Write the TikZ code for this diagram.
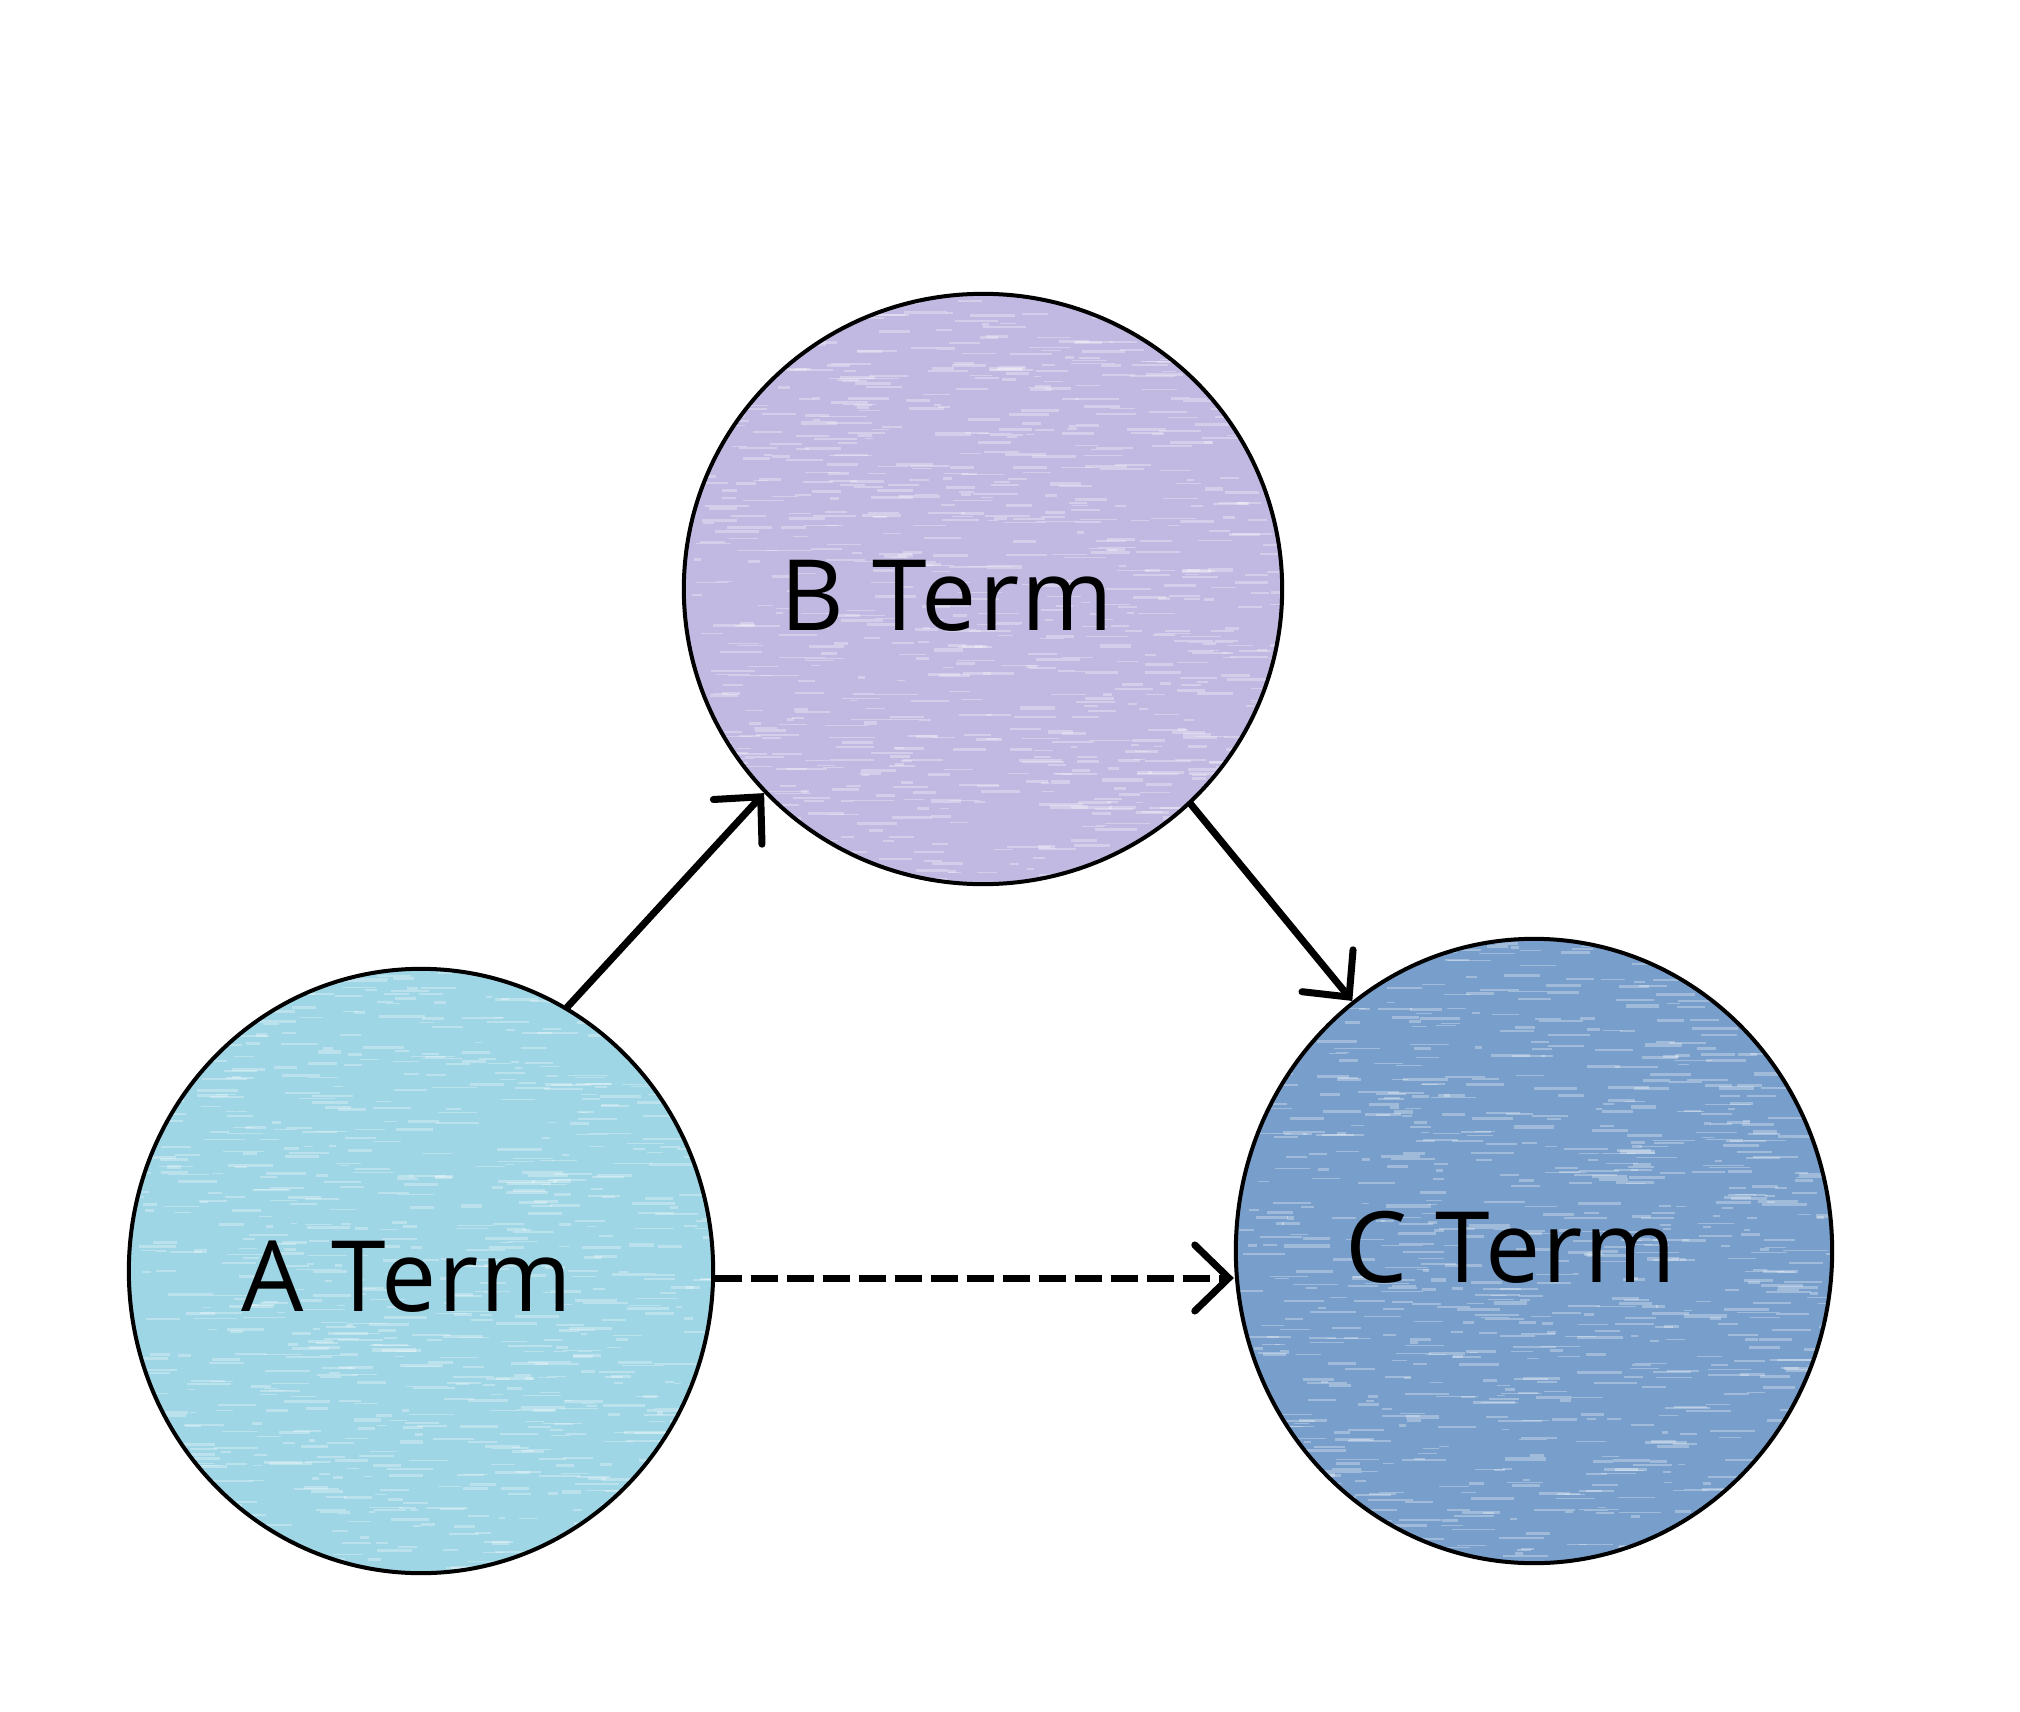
\documentclass[tikz,border=0pt]{standalone}
\usepackage{fontspec}
\setmainfont{Open Sans}
\usetikzlibrary{shapes.geometric,arrows.meta}
\definecolor{acol}{HTML}{9ED6E5}
\definecolor{bcol}{HTML}{C2B9E2}
\definecolor{ccol}{HTML}{789ECB}
\newcommand\mystreaks[5]{%
  \begin{scope}
    \clip (#1,#2) ellipse [x radius=#3*0.01cm, y radius=#4*0.01cm];
    \foreach \i in {1,...,#5}{%
      \pgfmathsetmacro\xx{#1+#3*rand}%
      \pgfmathsetmacro\yy{#2+#4*rand}%
      \pgfmathsetmacro\ll{6+40*rnd}%
      \pgfmathsetmacro\ww{0.008+0.025*rnd}%
      \draw[white, opacity=0.3, line width=\ww cm] (\xx,\yy) -- ++(\ll,0);
    }
  \end{scope}}
\begin{document}
\begin{tikzpicture}[x=0.01cm,y=-0.01cm,
  term/.style={ellipse, draw=black, line width=0.04cm, inner sep=0pt},
  lbl/.style={anchor=base, inner sep=0pt, font=\fontsize{28}{34}\selectfont\addfontfeatures{LetterSpace=2.2}},
  conn/.style={line width=0.07cm, line cap=round,
    -{Straight Barb[length=0.34cm, width=0.66cm, line width=0.07cm, line cap=round]}}]
\useasboundingbox[fill=white] (0,0) rectangle (2020,1712);
\pgfmathsetseed{7}
% circles
\node[term, fill=acol, minimum width=5.84cm, minimum height=6.04cm] (A) at (421,1271) {};
\node[term, fill=bcol, minimum width=5.98cm, minimum height=5.90cm] (B) at (983,589) {};
\node[term, fill=ccol, minimum width=5.96cm, minimum height=6.24cm] (C) at (1534,1251) {};
\mystreaks{421}{1271}{290}{300}{900}
\mystreaks{983}{589}{297}{293}{900}
\mystreaks{1534}{1251}{296}{310}{900}
% labels
\node[lbl] (At) at (407,1311) {A Term};
\node[lbl] (Bt) at (947,630) {B Term};
\node[lbl] (Ct) at (1511,1282) {C Term};
% connectors
\draw[conn] (A.61.3) -- (B.223.4);
\draw[conn] (B.314.7) -- (C.126.5);
\draw[conn, dash pattern=on 0.27cm off 0.09cm, line cap=butt] (A.east) ++(0,7) coordinate (ae) (ae) -- (C.west |- ae);
\end{tikzpicture}
\end{document}
